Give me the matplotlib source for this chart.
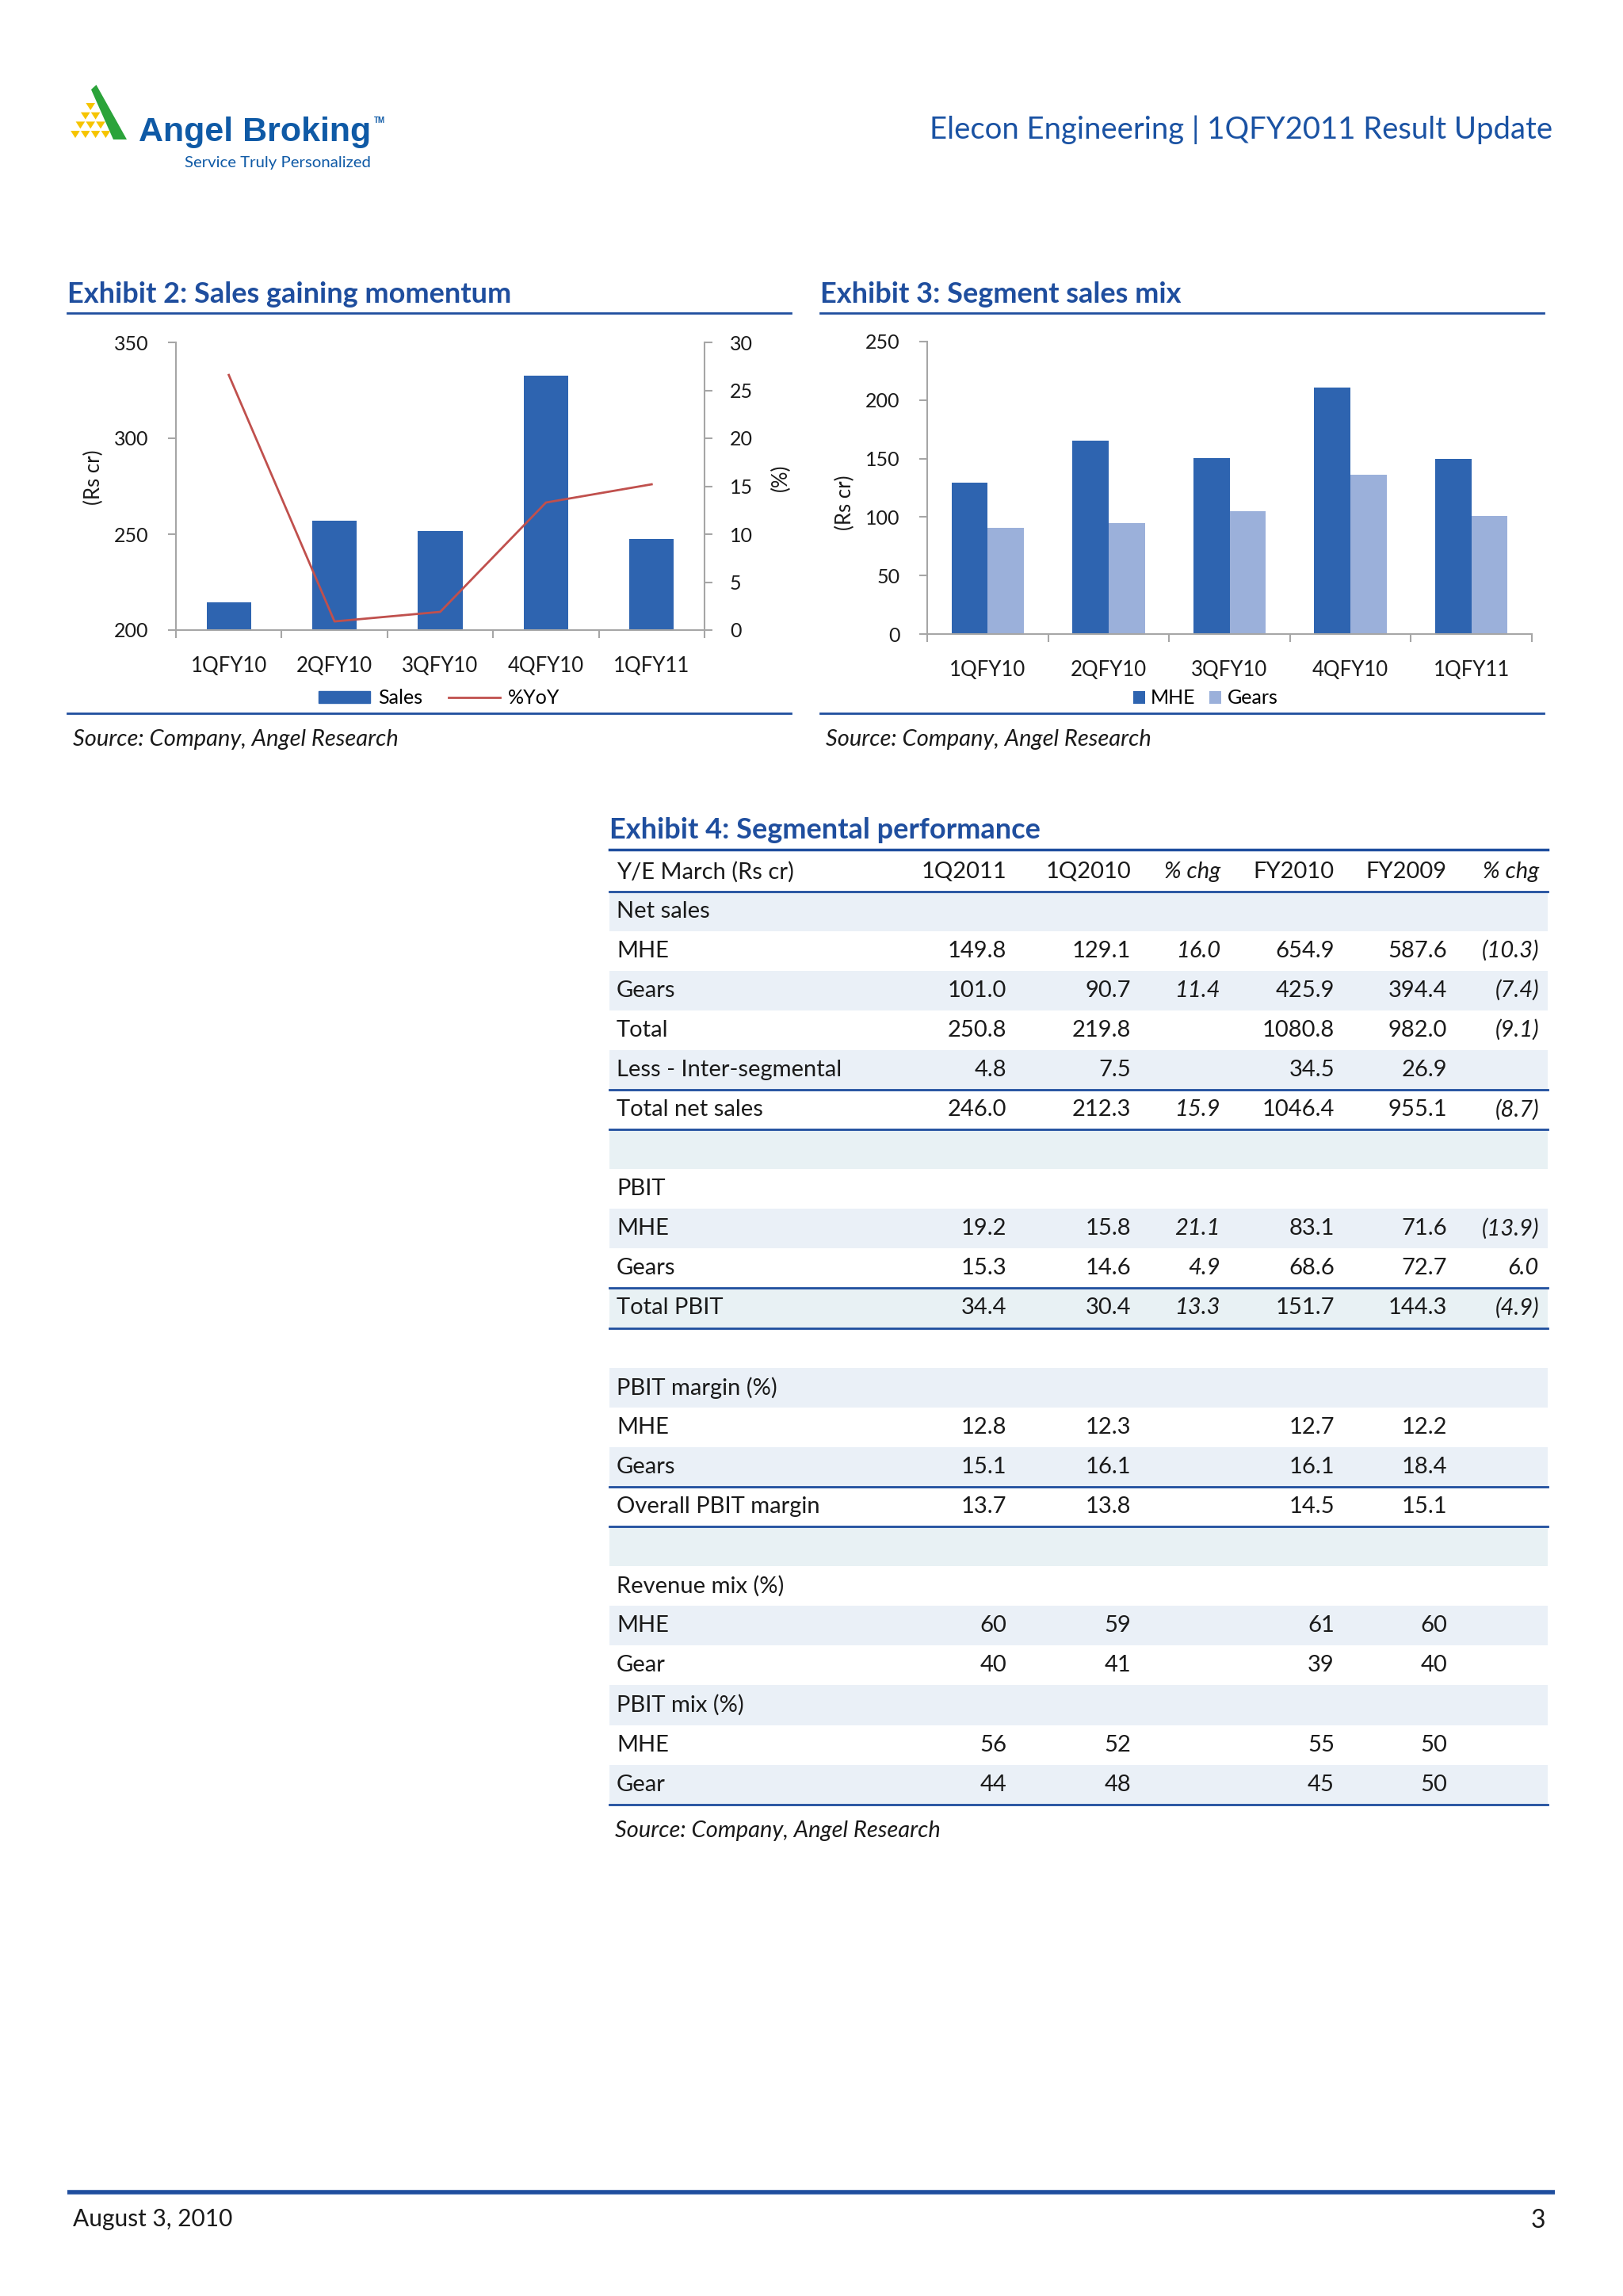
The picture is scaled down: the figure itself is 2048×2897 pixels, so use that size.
import numpy as np
import matplotlib.pyplot as plt
from matplotlib.patches import Polygon, Rectangle, Patch
from matplotlib.lines import Line2D

plt.rcParams['font.family'] = ['Lato', 'DejaVu Sans']

quarters = ["1QFY10", "2QFY10", "3QFY10", "4QFY10", "1QFY11"]
sales = [214.6, 257.1, 251.7, 332.8, 247.6]      # Rs cr
yoy = [26.6, 0.9, 1.9, 13.3, 15.2]               # %
mhe = [129.1, 165.5, 150.1, 210.8, 149.8]
gears = [90.7, 94.9, 105.0, 136.5, 101.0]

table_header = ["Y/E March (Rs cr)", "1Q2011", "1Q2010", "% chg", "FY2010", "FY2009", "% chg"]
row_labels = ["Net sales", "MHE", "Gears", "Total", "Less - Inter-segmental", "Total net sales",
              "", "PBIT", "MHE", "Gears", "Total PBIT", "",
              "PBIT margin (%)", "MHE", "Gears", "Overall PBIT margin", "",
              "Revenue mix (%)", "MHE", "Gear", "PBIT mix (%)", "MHE", "Gear"]
col_1q2011 = ["", "149.8", "101.0", "250.8", "4.8", "246.0", "", "", "19.2", "15.3", "34.4", "",
              "", "12.8", "15.1", "13.7", "", "", "60", "40", "", "56", "44"]
col_1q2010 = ["", "129.1", "90.7", "219.8", "7.5", "212.3", "", "", "15.8", "14.6", "30.4", "",
              "", "12.3", "16.1", "13.8", "", "", "59", "41", "", "52", "48"]
col_chg_q = ["", "16.0", "11.4", "", "", "15.9", "", "", "21.1", "4.9", "13.3", "",
             "", "", "", "", "", "", "", "", "", "", ""]
col_fy2010 = ["", "654.9", "425.9", "1080.8", "34.5", "1046.4", "", "", "83.1", "68.6", "151.7", "",
              "", "12.7", "16.1", "14.5", "", "", "61", "39", "", "55", "45"]
col_fy2009 = ["", "587.6", "394.4", "982.0", "26.9", "955.1", "", "", "71.6", "72.7", "144.3", "",
              "", "12.2", "18.4", "15.1", "", "", "60", "40", "", "50", "50"]
col_chg_fy = ["", "(10.3)", "(7.4)", "(9.1)", "", "(8.7)", "", "", "(13.9)", "6.0", "(4.9)", "",
              "", "", "", "", "", "", "", "", "", "", ""]
rule_after = [4, 5, 9, 10, 14, 15, 22]

# --- style ---
W, H = 2048, 2897
BLUE = '#1F4E9E'
HEAD_BLUE = '#1A52A3'
DARK_BAR = '#2E64B0'
LIGHT_BAR = '#9BB0DA'
RED = '#C0504D'
GREY = '#A6A6A6'
SHADE = '#EAF0F7'
SHADE_ALT = '#E8F1F4'
TXT = '#1A1A1A'


def rect(l, t, r, b):
    """Position d'un axe en pixels de page -> fraction de figure."""
    return [l / W, 1 - b / H, (r - l) / W, (b - t) / H]


fig = plt.figure(figsize=(W / 100, H / 100), dpi=100)
page = fig.add_axes([0, 0, 1, 1])
page.set_xlim(0, W)
page.set_ylim(H, 0)
page.axis('off')

# --- logo ---
page.add_patch(Polygon([(115, 113), (121.5, 107), (160, 176), (143, 176)], closed=True,
                       color='#2BA33A', lw=0))
for k in range(4):
    top = 130 + 11.7 * k
    left = 114.2 - (k + 1) * 6.4
    for j in range(k + 1):
        x0 = left + j * 12.8
        page.add_patch(Polygon([(x0 + 0.6, top), (x0 + 12.2, top), (x0 + 6.4, top + 9)],
                               closed=True, color='#F6C400', lw=0))
page.text(175, 178, "Angel Broking", fontsize=31, fontweight='bold', color='#0F5AA6',
          va='baseline', family='Liberation Sans')
page.text(472, 155, "TM", fontsize=7, fontweight='bold', color='#0F5AA6', va='baseline',
          family='Liberation Sans')
page.text(233, 211, "Service Truly Personalized", fontsize=14.7, color='#0F5AA6', va='baseline')

page.text(1959, 164, "Elecon Engineering | 1QFY2011 Result Update", ha='right', va='center',
          fontsize=27.5, color=HEAD_BLUE)

# --- cadres des exhibits ---
for x0, x1, title in [(85, 998, "Exhibit 2: Sales gaining momentum"),
                      (1035, 1948, "Exhibit 3: Segment sales mix")]:
    page.text(x0, 372, title, fontsize=26, fontweight='bold', color=BLUE, va='center')
    page.plot([x0, x1], [395, 395], color=BLUE, lw=2)
    page.plot([x0, x1], [900, 900], color=BLUE, lw=2)
    page.text(x0 + 7, 933, "Source: Company, Angel Research", fontsize=21, style='italic',
              color=TXT, va='center')

x = np.arange(len(quarters))


def style_axis(ax):
    ax.patch.set_alpha(0)
    ax.set_xlim(-0.5, len(quarters) - 0.5)
    ax.set_xticks(np.arange(-0.5, len(quarters), 1))
    ax.set_xticklabels([])
    ax.set_xticks(x, minor=True)
    ax.set_xticklabels(quarters, minor=True)
    ax.tick_params(axis='x', which='minor', length=0, pad=24, labelsize=18.5, labelcolor=TXT)
    ax.tick_params(axis='x', which='major', length=7, color=GREY, width=1.5)
    ax.tick_params(axis='y', length=7, color=GREY, width=1.5, labelsize=18, pad=18, labelcolor=TXT)
    for s in ['top', 'right']:
        ax.spines[s].set_visible(False)
    for s in ['left', 'bottom']:
        ax.spines[s].set_color(GREY)
        ax.spines[s].set_linewidth(1.5)


# --- Exhibit 2 ---
ax = fig.add_axes(rect(222, 432, 889, 795))
ax.bar(x, sales, width=0.42, color=DARK_BAR, zorder=2)
style_axis(ax)
ax.set_ylim(200, 350)
ax.set_yticks(range(200, 351, 50))
ax.set_ylabel("(Rs cr)", fontsize=18.5, color=TXT)
ax.yaxis.set_label_coords(-0.137, 0.53)

ax2 = ax.twinx()
ax2.plot(x, yoy, color=RED, lw=2)
ax2.set_ylim(0, 30)
ax2.set_yticks(range(0, 31, 5))
for s in ['top', 'left', 'bottom']:
    ax2.spines[s].set_visible(False)
ax2.spines['right'].set_color(GREY)
ax2.spines['right'].set_linewidth(1.5)
ax2.tick_params(axis='y', length=7, color=GREY, width=1.5, labelsize=18, pad=16, labelcolor=TXT)
ax2.set_ylabel("(%)", fontsize=18.5, color=TXT, rotation=90)
ax2.yaxis.set_label_coords(1.125, 0.53)

ax.legend(handles=[Patch(color=DARK_BAR, label="Sales"), Line2D([], [], color=RED, lw=2, label="%YoY")],
          loc='center', bbox_to_anchor=(554 / W, 1 - 881 / H), bbox_transform=fig.transFigure,
          ncol=2, frameon=False, fontsize=18, handlelength=2.6, handleheight=0.55,
          handletextpad=0.4, columnspacing=1.3)

# --- Exhibit 3 ---
bx = fig.add_axes(rect(1170, 431, 1933, 800))
bx.bar(x - 0.15, mhe, width=0.3, color=DARK_BAR, label="MHE", zorder=2)
bx.bar(x + 0.15, gears, width=0.3, color=LIGHT_BAR, label="Gears", zorder=2)
style_axis(bx)
bx.set_ylim(0, 250)
bx.set_yticks(range(0, 251, 50))
bx.set_ylabel("(Rs cr)", fontsize=18.5, color=TXT)
bx.yaxis.set_label_coords(-0.119, 0.45)
bx.legend(loc='center', bbox_to_anchor=(1521 / W, 1 - 881 / H), bbox_transform=fig.transFigure,
          ncol=2, frameon=False, fontsize=18, handlelength=0.6, handleheight=0.6,
          handletextpad=0.3, columnspacing=0.7)

# --- Exhibit 4 : tableau ---
TL, TR = 769, 1953
page.text(TL, 1048, "Exhibit 4: Segmental performance", fontsize=26, fontweight='bold',
          color=BLUE, va='center')
page.plot([TL, TR], [1072, 1072], color=BLUE, lw=2.5)

col_right = [1270, 1427, 1540, 1684, 1826, 1942]
columns = [col_1q2011, col_1q2010, col_chg_q, col_fy2010, col_fy2009, col_chg_fy]
italic_cols = [2, 5]
FS = 21

page.text(778, 1100, table_header[0], fontsize=FS, va='center', color=TXT)
for c, xr in enumerate(col_right):
    page.text(xr, 1100, table_header[c + 1], fontsize=FS, va='center', ha='right', color=TXT,
              style='italic' if c in italic_cols else 'normal')
page.plot([TL, TR], [1125, 1125], color=BLUE, lw=2)

row_h = 50.1
y0 = 1149.5
for i, lab in enumerate(row_labels):
    yc = y0 + i * row_h
    if i % 2 == 0:
        fill = SHADE_ALT if i in (6, 10, 16) else SHADE
        page.add_patch(Rectangle((TL, yc - row_h / 2), TR - TL, row_h, color=fill, lw=0, zorder=0))
    page.text(778, yc, lab, fontsize=FS, va='center', color=TXT)
    for c, xr in enumerate(col_right):
        page.text(xr, yc, columns[c][i], fontsize=FS, va='center', ha='right', color=TXT,
                  style='italic' if c in italic_cols else 'normal')
    if i in rule_after:
        page.plot([TL, TR], [yc + row_h / 2, yc + row_h / 2], color=BLUE, lw=2)

page.text(776, 2310, "Source: Company, Angel Research", fontsize=21, style='italic',
          color=TXT, va='center')

# --- pied de page ---
page.plot([85, 1962], [2766, 2766], color='#1F4E9E', lw=4, solid_capstyle='butt')
page.text(92, 2800, "August 3, 2010", fontsize=21.5, va='center', color=TXT)
page.text(1950, 2802, "3", fontsize=23, va='center', ha='right', color=TXT)

fig.savefig("out.png", dpi=100)
